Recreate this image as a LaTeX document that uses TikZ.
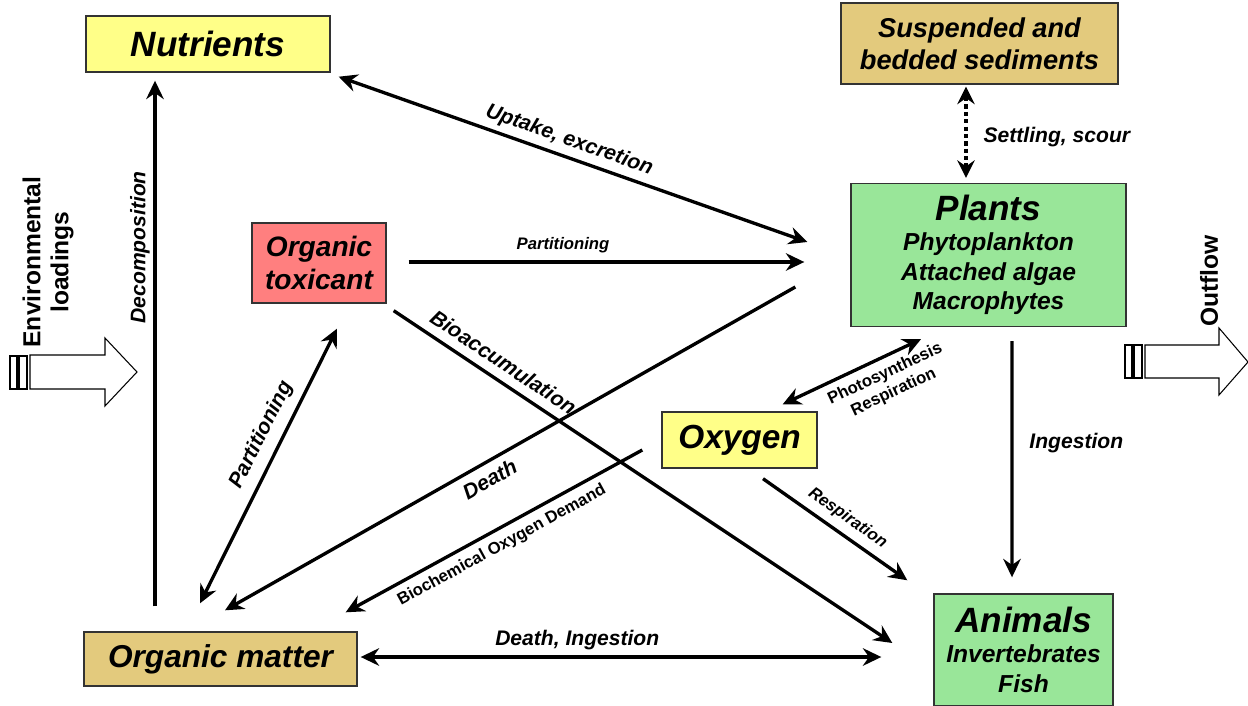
\documentclass[tikz,border=0pt]{standalone}
\usepackage{fontspec}
\setmainfont{Liberation Sans}
\usepackage{tikz}
\usetikzlibrary{arrows.meta,calc}
\definecolor{nutyellow}{HTML}{FFFF88}
\definecolor{sedtan}{HTML}{E3CA7D}
\definecolor{biogreen}{HTML}{99E699}
\definecolor{toxred}{HTML}{FF7F7F}
\definecolor{edgegray}{HTML}{333333}
\tikzset{
  pool/.style={draw=edgegray, line width=0.8pt, align=center, inner sep=2pt, font=\bfseries\itshape},
  flow/.style={-{Stealth[length=10.5pt,width=10pt,inset=3.5pt]}, line width=1.9pt, draw=black},
  twoflow/.style={{Stealth[length=10.5pt,width=10pt,inset=3.5pt]}-{Stealth[length=10.5pt,width=10pt,inset=3.5pt]}, line width=1.9pt, draw=black},
  dotflow/.style={{Stealth[length=10pt,width=10pt,inset=3.5pt]}-{Stealth[length=10pt,width=10pt,inset=3.5pt]}, line width=2.1pt, dash pattern=on 2.4pt off 1.8pt, draw=black},
  lbl/.style={font=\bfseries\itshape\fontsize{12}{14}\selectfont, inner sep=1pt},
  smalllbl/.style={font=\bfseries\itshape\fontsize{9.5}{11}\selectfont, inner sep=1pt},
  uplbl/.style={font=\bfseries\fontsize{9.5}{11.5}\selectfont, inner sep=1pt, align=center},
  sidelbl/.style={font=\bfseries\fontsize{14}{16}\selectfont, align=center, rotate=90},
  bigarrow/.style={draw=black, line width=0.6pt, fill=white}
}

\begin{document}
\begin{tikzpicture}[x=0.02cm, y=-0.02cm]
  \useasboundingbox (0,0) rectangle (1248,706);

  \node[pool, fill=nutyellow, minimum width=4.88cm, minimum height=1.12cm, font=\bfseries\itshape\fontsize{20}{24}\selectfont] (nut) at (208,44) {Nutrients};
  \node[pool, fill=sedtan, minimum width=5.54cm, minimum height=1.62cm, font=\bfseries\itshape\fontsize{15.5}{18}\selectfont] (sed) at (979.5,43.5) {Suspended and\\bedded sediments};
  \node[pool, fill=biogreen, minimum width=5.5cm, minimum height=2.86cm, font=\bfseries\itshape\fontsize{14}{17}\selectfont] (plants) at (988.5,255) {{\fontsize{20}{24}\selectfont Plants}\\Phytoplankton\\Attached algae\\Macrophytes};
  \node[pool, fill=toxred, minimum width=2.68cm, minimum height=1.6cm, font=\bfseries\itshape\fontsize{16}{18.5}\selectfont] (tox) at (319,263) {Organic\\toxicant};
  \node[pool, fill=nutyellow, minimum width=3.1cm, minimum height=1.12cm, font=\bfseries\itshape\fontsize{19}{22}\selectfont] (oxy) at (739.5,440) {Oxygen};
  \node[pool, fill=sedtan, minimum width=5.46cm, minimum height=1.08cm, font=\bfseries\itshape\fontsize{18}{21}\selectfont] (orgm) at (220.5,659) {Organic matter};
  \node[pool, fill=biogreen, minimum width=3.58cm, minimum height=2.24cm, font=\bfseries\itshape\fontsize{14}{17}\selectfont] (anim) at (1023.5,650) {{\fontsize{20}{24}\selectfont Animals}\\Invertebrates\\Fish};

  \draw[bigarrow] (10,356) rectangle (17,389);
  \draw[bigarrow] (19,356) rectangle (27,389);
  \draw[bigarrow] (30,355) -- (105,355) -- (105,338) -- (137,372) -- (105,406) -- (105,389) -- (30,389) -- cycle;
  \node[sidelbl] (load) at (48,262) {Environmental\\loadings};

  \draw[bigarrow] (1125,345) rectangle (1132,378);
  \draw[bigarrow] (1134,345) rectangle (1142,378);
  \draw[bigarrow] (1145,345) -- (1219,345) -- (1219,328) -- (1248,362) -- (1219,395) -- (1219,378) -- (1145,378) -- cycle;
  \node[sidelbl] (out) at (1209,281) {Outflow};

  \draw[twoflow] ($(nut.south east)+(8,4)$) -- node[lbl, sloped, above=2pt, pos=0.48] {Uptake, excretion} ($(plants.west)+(-43,-13)$);
  \draw[flow] ($(tox.east)+(22,-1)$) -- node[smalllbl, above=3pt, pos=0.39] {Partitioning} ($(plants.west)+(-46,7)$);
  \draw[flow] ($(plants.west)+(-55,32)$) -- node[lbl, sloped, below=3pt, pos=0.55] {Death} ($(orgm.north)+(4.5,-21)$);
  \draw[flow] ($(oxy.west)+(-19,10)$) -- node[uplbl, sloped, below=3pt, pos=0.5] {Biochemical Oxygen Demand} ($(orgm.north east)+(-12,-19)$);
  \draw[flow] ($(tox.south east)+(7,7)$) -- node[lbl, sloped, above=4pt, pos=0.2] {Bioaccumulation} ($(anim.west)+(-41,-7)$);
  \draw[twoflow] ($(orgm.north)+(-20.5,-28)$) -- node[lbl, sloped, above=4pt, pos=0.58] {Partitioning} ($(tox.south)+(18,25)$);
  \draw[flow] ($(orgm.north)+(-65.5,-25)$) -- node[lbl, sloped, above=1pt, pos=0.683] {Decomposition} ($(nut.south)+(-53,8)$);
  \draw[twoflow] ($(plants.south)+(-67.5,12)$) -- node[uplbl, sloped, below=3pt, pos=0.31] {Photosynthesis\\Respiration} ($(oxy.north east)+(-35,-7)$);
  \draw[flow] ($(oxy.south)+(23.5,10)$) -- node[smalllbl, sloped, above=3pt, pos=0.52] {Respiration} ($(anim.north west)+(-26,-13)$);
  \draw[flow] ($(plants.south)+(23.5,14)$) -- node[lbl, right=8pt, pos=0.43] {Ingestion} ($(anim.north)+(-11.5,-16)$);
  \draw[twoflow] ($(orgm.east)+(3,-2)$) -- node[lbl, above=2pt, pos=0.416] {Death, Ingestion} ($(anim.west)+(-52,7)$);
  \draw[dotflow] ($(sed.south)+(-13.5,2)$) -- node[lbl, right=8pt, pos=0.55] {Settling, scour} ($(plants.north)+(-22.5,-5)$);
\end{tikzpicture}
\end{document}
